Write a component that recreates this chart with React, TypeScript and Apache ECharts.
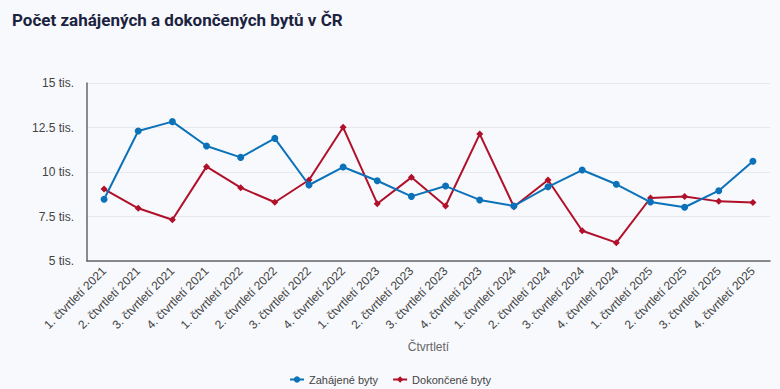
import React, { useEffect, useRef } from "react";
import * as echarts from "echarts";

const categories = [
  "1. čtvrtletí 2021", "2. čtvrtletí 2021", "3. čtvrtletí 2021", "4. čtvrtletí 2021",
  "1. čtvrtletí 2022", "2. čtvrtletí 2022", "3. čtvrtletí 2022", "4. čtvrtletí 2022",
  "1. čtvrtletí 2023", "2. čtvrtletí 2023", "3. čtvrtletí 2023", "4. čtvrtletí 2023",
  "1. čtvrtletí 2024", "2. čtvrtletí 2024", "3. čtvrtletí 2024", "4. čtvrtletí 2024",
  "1. čtvrtletí 2025", "2. čtvrtletí 2025", "3. čtvrtletí 2025", "4. čtvrtletí 2025",
];

const zahajene = [
  8470, 12300, 12830, 11460, 10820, 11890, 9270, 10280, 9510, 8630,
  9210, 8430, 8090, 9170, 10110, 9310, 8310, 8020, 8950, 10600,
];

const dokoncene = [
  9040, 7960, 7320, 10300, 9120, 8300, 9550, 12510, 8220, 9700,
  8090, 12130, 8050, 9550, 6700, 6030, 8540, 8630, 8350, 8280,
];

const yTicks = [5000, 7500, 10000, 12500, 15000];

export default function App() {
  const ref = useRef<HTMLDivElement>(null);
  useEffect(() => {
    document.body.style.margin = "0";
    const chart = echarts.init(ref.current!, null, { renderer: "svg" });
    chart.setOption({
      animation: false,
      backgroundColor: "#f7f9fc",
      title: {
        text: "Počet zahájených a dokončených bytů v ČR",
        left: 7,
        top: 6,
        textStyle: {
          fontFamily: "Roboto",
          fontWeight: "bold",
          fontSize: 17,
          color: "#1c2340",
        },
      },
      grid: { left: 87, right: 10, top: 83, bottom: 128, containLabel: false },
      legend: {
        top: 369,
        left: "center",
        itemWidth: 14,
        itemHeight: 8,
        itemGap: 14,
        textStyle: { fontFamily: "Liberation Sans", fontSize: 11, color: "#444" },
        data: ["Zahájené byty", "Dokončené byty"],
      },
      xAxis: {
        type: "category",
        data: categories,
        boundaryGap: true,
        name: "Čtvrtletí",
        nameLocation: "middle",
        nameGap: 80,
        nameTextStyle: { fontFamily: "Liberation Sans", fontSize: 12, color: "#666" },
        axisLine: { show: true, lineStyle: { color: "#666", width: 1.5 } },
        axisTick: { show: false },
        axisLabel: {
          rotate: 45,
          interval: 0,
          margin: 8,
          fontFamily: "Liberation Sans",
          fontSize: 12,
          color: "#444",
        },
      },
      yAxis: {
        type: "value",
        min: yTicks[0],
        max: yTicks[yTicks.length - 1],
        interval: 2500,
        axisLine: { show: true, lineStyle: { color: "#666", width: 1.5 } },
        axisTick: { show: false },
        splitLine: { lineStyle: { color: "#e6e8ec", width: 1 } },
        axisLabel: {
          margin: 13,
          fontFamily: "Liberation Sans",
          fontSize: 12,
          color: "#444",
          formatter: (v: number) => v / 1000 + " tis.",
        },
      },
      series: [
        {
          name: "Zahájené byty",
          type: "line",
          data: zahajene,
          symbol: "circle",
          symbolSize: 7,
          lineStyle: { width: 2, color: "#0b72b9" },
          itemStyle: { color: "#0b72b9" },
          z: 3,
        },
        {
          name: "Dokončené byty",
          type: "line",
          data: dokoncene,
          symbol: "diamond",
          symbolSize: 7,
          lineStyle: { width: 2, color: "#b0102a" },
          itemStyle: { color: "#b0102a" },
          z: 2,
        },
      ],
    });
    return () => chart.dispose();
  }, []);
  return (
    <div
      ref={ref}
      style={{ position: "fixed", left: 0, top: 0, width: 780, height: 389 }}
    />
  );
}
